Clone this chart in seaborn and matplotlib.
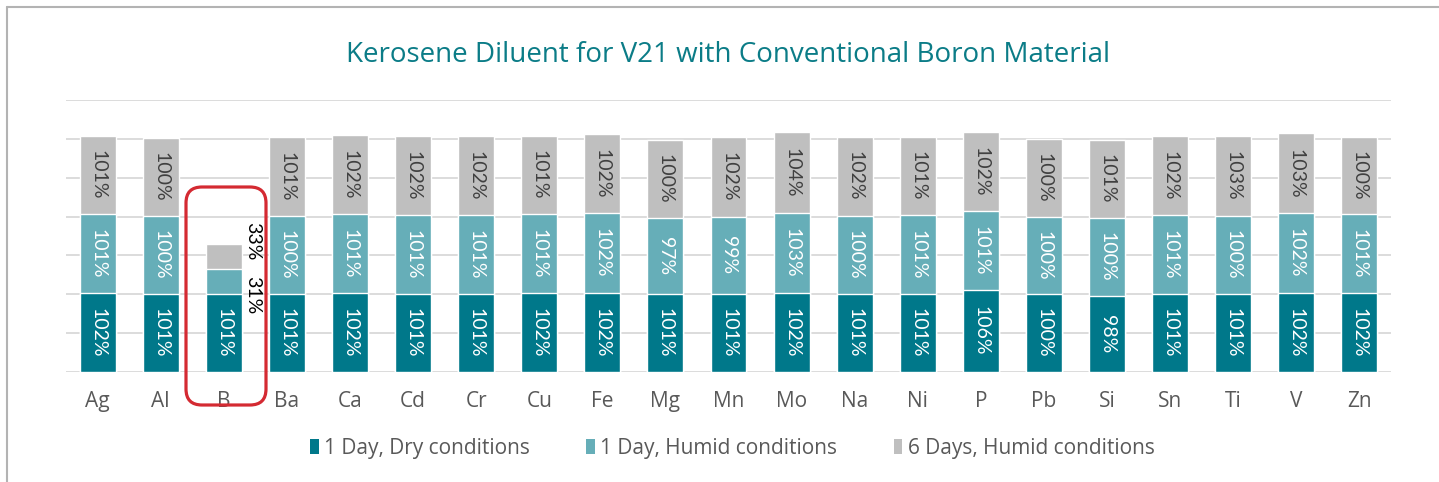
import numpy as np
import pandas as pd
import matplotlib
matplotlib.use('Agg')
import matplotlib.pyplot as plt
import seaborn as sns
from matplotlib.patches import FancyBboxPatch, Patch
from matplotlib.lines import Line2D
from matplotlib.transforms import IdentityTransform

elements = ['Ag', 'Al', 'B', 'Ba', 'Ca', 'Cd', 'Cr', 'Cu', 'Fe', 'Mg', 'Mn',
            'Mo', 'Na', 'Ni', 'P', 'Pb', 'Si', 'Sn', 'Ti', 'V', 'Zn']
dry_1day = [102, 101, 101, 101, 102, 101, 101, 102, 102, 101, 101,
            102, 101, 101, 106, 100, 98, 101, 101, 102, 102]
humid_1day = [101, 100, 31, 100, 101, 101, 101, 101, 102, 97, 99,
              103, 100, 101, 101, 100, 100, 101, 100, 102, 101]
humid_6days = [101, 100, 33, 101, 102, 102, 102, 101, 102, 100, 102,
               104, 102, 101, 102, 100, 101, 102, 103, 103, 100]

series_names = ['1 Day, Dry conditions', '1 Day, Humid conditions', '6 Days, Humid conditions']
colors = ['#00788A', '#66AEB8', '#BFBFBF']
label_colors = ['white', 'white', '#404040']

sns.set_theme(style='white')
plt.rcParams['font.family'] = ['Lato', 'DejaVu Sans']

df = pd.DataFrame({'element': elements, 'dry': dry_1day,
                   'humid1': humid_1day, 'humid6': humid_6days})
df['top1'] = df['dry']
df['top2'] = df['top1'] + df['humid1']
df['top3'] = df['top2'] + df['humid6']

fig = plt.figure(figsize=(14.39, 4.82), dpi=100)
ax = fig.add_axes([66 / 1439, 1 - 372 / 482, 1325 / 1439, 272 / 482])

# stacked bars: draw the cumulative totals from the back to the front
for col, c in zip(['top3', 'top2', 'top1'], colors[::-1]):
    sns.barplot(data=df, x='element', y=col, color=c, width=0.57,
                saturation=1, ax=ax, zorder=3)

ax.set_ylim(0, 350)
ax.set_xlim(-0.5, len(elements) - 0.5)
ax.set_yticks(range(0, 351, 50))
ax.yaxis.grid(True, color='#D9D9D9', lw=1.3)
ax.set_axisbelow(True)
ax.tick_params(axis='y', left=False, labelleft=False)
ax.tick_params(axis='x', length=0, pad=14, labelcolor='#595959', labelsize=15)
for t in ax.get_xticklabels():
    t.set_family(['Open Sans', 'DejaVu Sans'])
ax.set_xlabel('')
ax.set_ylabel('')
sns.despine(ax=ax, left=True, bottom=True)

# segment labels
for i, row in df.iterrows():
    bottoms = [0, row['top1'], row['top2']]
    vals = [row['dry'], row['humid1'], row['humid6']]
    for k in range(3):
        if row['element'] == 'B' and k > 0:
            continue
        ax.text(i, bottoms[k] + vals[k] / 2, f"{vals[k]}%", rotation=270,
                ha='center', va='center', color=label_colors[k], fontsize=14, zorder=5)

# B has small values, labels sit outside the bar
b = elements.index('B')
rb = df.iloc[b]
ax.text(b + 0.45, rb['top1'] - 2, f"{rb['humid1']}%", rotation=270,
        ha='center', va='center', color='black', fontsize=14, zorder=5)
ax.text(b + 0.45, rb['top3'] + 3, f"{rb['humid6']}%", rotation=270,
        ha='center', va='center', color='black', fontsize=14, zorder=5)

# red highlight around B
box = FancyBboxPatch((186, 482 - 405), 80, 218,
                     boxstyle='round,pad=0,rounding_size=16',
                     transform=IdentityTransform(), fill=False,
                     edgecolor='#D42A32', lw=2.3, zorder=10)
fig.add_artist(box)

fig.text(0.506, 0.886, 'Kerosene Diluent for V21 with Conventional Boron Material',
         ha='center', va='center', color='#0B7C87', fontsize=20,
         family=['Open Sans', 'DejaVu Sans'])

handles = [Patch(facecolor=c, edgecolor='none', label=n) for c, n in zip(colors, series_names)]
fig.legend(handles=handles, loc='center', bbox_to_anchor=(0.509, 0.07), ncol=3,
           frameon=False, handlelength=0.42, handleheight=0.72,
           handletextpad=0.25, columnspacing=2.7, labelcolor='#595959',
           prop={'family': ['Open Sans', 'DejaVu Sans'], 'size': 15})

# chart frame
fig.add_artist(Line2D([7 / 1439, 1], [1 - 7 / 482] * 2, transform=fig.transFigure,
                      color='#B3B3B3', lw=1.5))
fig.add_artist(Line2D([7 / 1439] * 2, [0, 1 - 7 / 482], transform=fig.transFigure,
                      color='#B3B3B3', lw=1.5))

fig.savefig('out.png', dpi=100)
